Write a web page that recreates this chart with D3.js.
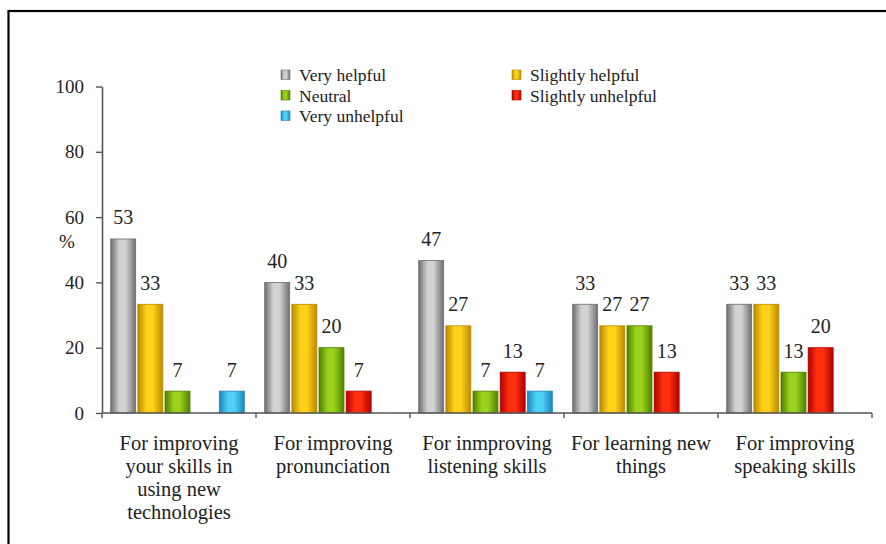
<!DOCTYPE html>
<html>
<head>
<meta charset="utf-8">
<script src="https://cdn.jsdelivr.net/npm/d3@7"></script>
<style>
html, body { margin: 0; padding: 0; background: #fff; }
svg { display: block; }
text { font-family: "Liberation Serif", "DejaVu Serif", serif; fill: #222; }
</style>
</head>
<body>
<script>
// ---- data ----
const categories = [
  "For improving\nyour skills in\nusing new\ntechnologies",
  "For improving\npronunciation",
  "For inmproving\nlistening skills",
  "For learning new\nthings",
  "For improving\nspeaking skills"
];
const seriesNames = ["Very helpful", "Slightly helpful", "Neutral", "Slightly unhelpful", "Very unhelpful"];
const veryHelpful       = [53.3, 40.0, 46.7, 33.3, 33.3];
const slightlyHelpful   = [33.3, 33.3, 26.7, 26.7, 33.3];
const neutral           = [6.7, 20.0, 6.7, 26.7, 12.5];
const slightlyUnhelpful = [null, 6.7, 12.5, 12.5, 20.0];
const veryUnhelpful     = [6.7, null, 6.7, null, null];
const yTicks = [0, 20, 40, 60, 80, 100];
const yLabel = "%";

const seriesValues = [veryHelpful, slightlyHelpful, neutral, slightlyUnhelpful, veryUnhelpful];
const seriesColors = [
  { edge: "#6e6e6e", mid: "#d2d2d2" },
  { edge: "#b88a00", mid: "#ffd21a" },
  { edge: "#4f8000", mid: "#9ad21c" },
  { edge: "#b00000", mid: "#ff3010" },
  { edge: "#1a88b8", mid: "#50d0f5" }
];

const W = 886, H = 544;
const svg = d3.select("body").append("svg").attr("width", W).attr("height", H);

// frame
svg.append("rect").attr("x", 8.5).attr("y", 11).attr("width", 900).attr("height", 600)
  .attr("fill", "none").attr("stroke", "#000").attr("stroke-width", 2.2);

// gradients
const defs = svg.append("defs");
seriesColors.forEach((c, i) => {
  const g = defs.append("linearGradient").attr("id", "g" + i)
    .attr("x1", "0%").attr("x2", "100%").attr("y1", "0%").attr("y2", "0%");
  g.append("stop").attr("offset", "0%").attr("stop-color", c.edge);
  g.append("stop").attr("offset", "35%").attr("stop-color", c.mid);
  g.append("stop").attr("offset", "60%").attr("stop-color", c.mid);
  g.append("stop").attr("offset", "100%").attr("stop-color", c.edge);
});

const y = d3.scaleLinear().domain([0, 100]).range([413, 86.5]);
const x = d3.scaleBand().domain(categories).range([102, 872]);
const xs = d3.scaleBand().domain(d3.range(seriesNames.length)).range([8.7, 142.3]).paddingInner(0.08);

// bars
const barData = [];
seriesValues.forEach((vals, si) => vals.forEach((v, ci) => {
  if (v != null) barData.push({ si, ci, v });
}));
const bars = svg.append("g");
bars.selectAll("rect").data(barData).enter().append("rect")
  .attr("x", d => x(categories[d.ci]) + xs(d.si))
  .attr("y", d => y(d.v))
  .attr("width", xs.bandwidth())
  .attr("height", d => y(0) - y(d.v))
  .attr("fill", d => "url(#g" + d.si + ")")
  .attr("stroke", d => seriesColors[d.si].edge)
  .attr("stroke-width", 0.8);
bars.selectAll("text").data(barData).enter().append("text")
  .attr("x", d => x(categories[d.ci]) + xs(d.si) + xs.bandwidth() / 2)
  .attr("y", d => y(d.v) - 14.5)
  .attr("text-anchor", "middle")
  .attr("font-size", 20)
  .text(d => Math.round(d.v));

// y axis
const yAxis = svg.append("g").attr("transform", "translate(102,0)")
  .call(d3.axisLeft(y).tickValues(yTicks).tickSize(6).tickPadding(12).tickSizeOuter(0));
yAxis.select(".domain").attr("stroke", "#555").attr("stroke-width", 1.6);
yAxis.selectAll(".tick line").attr("stroke", "#555").attr("stroke-width", 1.4);
yAxis.selectAll(".tick text").attr("font-size", 19)
  .attr("font-family", "Liberation Serif").attr("fill", "#222");

svg.append("text").attr("x", 67).attr("y", 248).attr("text-anchor", "middle")
  .attr("font-size", 19).text(yLabel);

// x axis
const xAxisG = svg.append("g");
xAxisG.append("line").attr("x1", 102).attr("x2", 872).attr("y1", y(0)).attr("y2", y(0))
  .attr("stroke", "#555").attr("stroke-width", 1.6);
const bounds = categories.map(c => x(c)).concat([x.range()[1]]);
xAxisG.selectAll(".tk").data(bounds).enter().append("line")
  .attr("x1", d => d).attr("x2", d => d).attr("y1", y(0)).attr("y2", y(0) + 5)
  .attr("stroke", "#555").attr("stroke-width", 1.4);

// category labels
categories.forEach(c => {
  const t = svg.append("text").attr("text-anchor", "middle").attr("font-size", 20.5);
  c.split("\n").forEach((line, i) => {
    t.append("tspan").attr("x", x(c) + x.bandwidth() / 2).attr("y", 450 + i * 23).text(line);
  });
});

// legend
const legendPos = [
  { x: 281, y: 70 }, { x: 512, y: 70 },
  { x: 281, y: 90.5 }, { x: 512, y: 90.5 },
  { x: 281, y: 111 }
];
const lg = svg.append("g");
seriesNames.forEach((name, si) => {
  const p = legendPos[si];
  lg.append("rect").attr("x", p.x).attr("y", p.y).attr("width", 9).attr("height", 9.5)
    .attr("fill", "url(#g" + si + ")").attr("stroke", seriesColors[si].edge).attr("stroke-width", 0.6);
  lg.append("text").attr("x", p.x + 18).attr("y", p.y + 11).attr("font-size", 17.5).text(name);
});
</script>
</body>
</html>
